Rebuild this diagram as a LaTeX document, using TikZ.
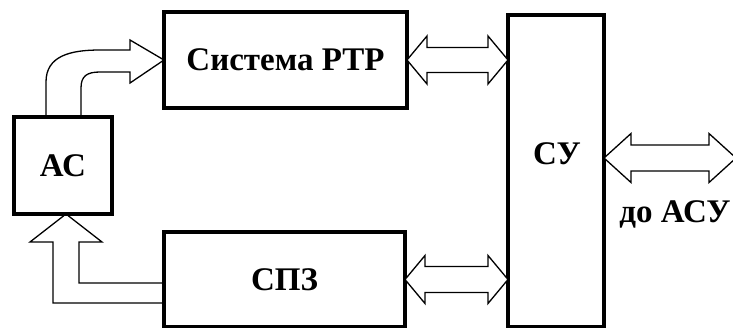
\documentclass[tikz,border=0pt]{standalone}
\usepackage{fontspec}
\setmainfont{Liberation Serif}
\usetikzlibrary{calc}
\tikzset{
  box/.style={draw, line width=3.2pt, outer sep=0pt, inner sep=0pt,
    font=\bfseries\fontsize{33}{38}\selectfont},
  lbl/.style={inner sep=0pt, font=\bfseries\fontsize{33}{38}\selectfont},
  arr/.style={draw, line width=1.3pt, line join=miter, fill=white}
}
\newcommand\dblarr[5]{\draw[arr] let \p1=(#1), \p2=(#2) in
  (\x1,\y1) -- (\x1+#5,\y1+#4) -- (\x1+#5,\y1+#3) -- (\x2-#5,\y1+#3) --
  (\x2-#5,\y1+#4) -- (\x2,\y1) -- (\x2-#5,\y1-#4) -- (\x2-#5,\y1-#3) --
  (\x1+#5,\y1-#3) -- (\x1+#5,\y1-#4) -- cycle;}
\begin{document}
\begin{tikzpicture}[x=1pt,y=-1pt]
\useasboundingbox[fill=white] (0,0) rectangle (733,327);
% boxes
\node[box, minimum width=243pt, minimum height=96pt] (rtr) at (285.5,60) {Система РТР};
\node[box, minimum width=98pt, minimum height=97pt] (ac) at (63,165.5) {АС};
\node[box, minimum width=241pt, minimum height=95pt] (spz) at (284.5,279.5) {СПЗ};
\node[box, minimum width=96pt, minimum height=312pt] (su) at (556,171) {};
\node[lbl] (sulbl) at (557,154) {СУ};
\node[lbl] (asu) at (675,214) {до АСУ};
\coordinate (ext) at (736,158);
% double arrows
\dblarr{rtr.east}{su.west |- rtr.east}{12.5pt}{24pt}{20pt}
\dblarr{spz.east}{su.west |- spz.east}{13pt}{24pt}{20pt}
\dblarr{su.east |- ext}{ext}{13pt}{24.5pt}{27pt}
% AC -> RTR bent arrow
\draw[arr, fill=none] let \p1=(ac.north), \p2=(rtr.west) in
  (\x1-17pt,\y1) -- (\x1-17pt,\y2-22pt)
  .. controls (\x1-17pt,\y2+4pt) and (\x1+7pt,\y2+10pt) .. (\x1+37pt,\y2+10pt)
  -- (\x2-34pt,\y2+10pt) -- (\x2-34pt,\y2+20pt) -- (\x2,\y2)
  -- (\x2-34pt,\y2-23pt) -- (\x2-34pt,\y2-12pt) -- (\x1+37pt,\y2-12pt)
  .. controls (\x1+24pt,\y2-12pt) and (\x1+18pt,\y2-16pt) .. (\x1+18pt,\y2-28pt)
  -- (\x1+18pt,\y1);
% SPZ -> AC arrow
\draw[arr, fill=none] let \p1=(ac.south), \p2=(spz.west) in
  (\x2,\y2-23.5pt) -- (\x1-10pt,\y2-23.5pt) -- (\x1-10pt,\y1-28pt)
  -- (\x1-33pt,\y1-28pt) -- (\x1+3pt,\y1) -- (\x1+39pt,\y1-28pt)
  -- (\x1+16pt,\y1-28pt) -- (\x1+16pt,\y2-3.5pt) -- (\x2,\y2-3.5pt);
\end{tikzpicture}
\end{document}
